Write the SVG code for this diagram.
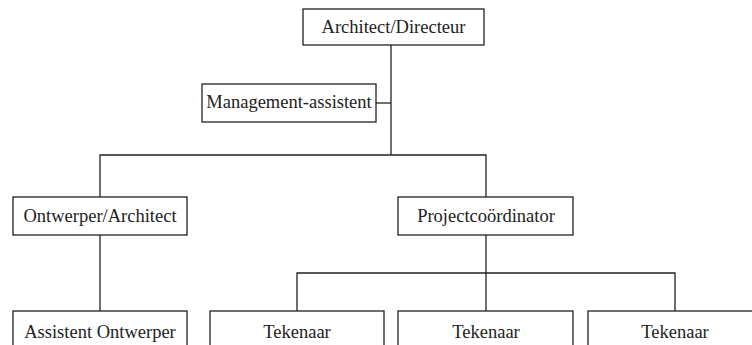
<svg xmlns="http://www.w3.org/2000/svg" width="752" height="345" viewBox="0 0 752 345">
<style>
.box{fill:#fff;stroke:#222;stroke-width:1.3}
.lbl{font-family:"Liberation Serif","Times New Roman",serif;font-size:18.5px;fill:#222;text-anchor:middle}
.con{fill:none;stroke:#222;stroke-width:1.3}
</style>
<rect width="752" height="345" fill="#fff"/>
<g id="connectors">
<path class="con" d="M391 45V155"/>
<path class="con" d="M376 103H391"/>
<path class="con" d="M100 197V155H486V197"/>
<path class="con" d="M100 235V311"/>
<path class="con" d="M486 235V311"/>
<path class="con" d="M297 311V273H675V311"/>
</g>
<g id="architect-directeur"><rect class="box" x="303" y="9" width="181" height="36"/><text class="lbl" x="393.5" y="33">Architect/Directeur</text></g>
<g id="management-assistent"><rect class="box" x="202" y="84" width="174" height="38"/><text class="lbl" x="289" y="108">Management-assistent</text></g>
<g id="ontwerper-architect"><rect class="box" x="13" y="197" width="174" height="38"/><text class="lbl" x="100" y="222">Ontwerper/Architect</text></g>
<g id="projectcoordinator"><rect class="box" x="398" y="197" width="175" height="38"/><text class="lbl" x="486" y="222">Projectcoördinator</text></g>
<g id="assistent-ontwerper"><rect class="box" x="13" y="311" width="174" height="50"/><text class="lbl" x="100" y="338">Assistent Ontwerper</text></g>
<g id="tekenaar-1"><rect class="box" x="210" y="311" width="174" height="50"/><text class="lbl" x="297" y="338">Tekenaar</text></g>
<g id="tekenaar-2"><rect class="box" x="398" y="311" width="175" height="50"/><text class="lbl" x="486" y="338">Tekenaar</text></g>
<g id="tekenaar-3"><rect class="box" x="588" y="311" width="174" height="50"/><text class="lbl" x="675" y="338">Tekenaar</text></g>
</svg>
